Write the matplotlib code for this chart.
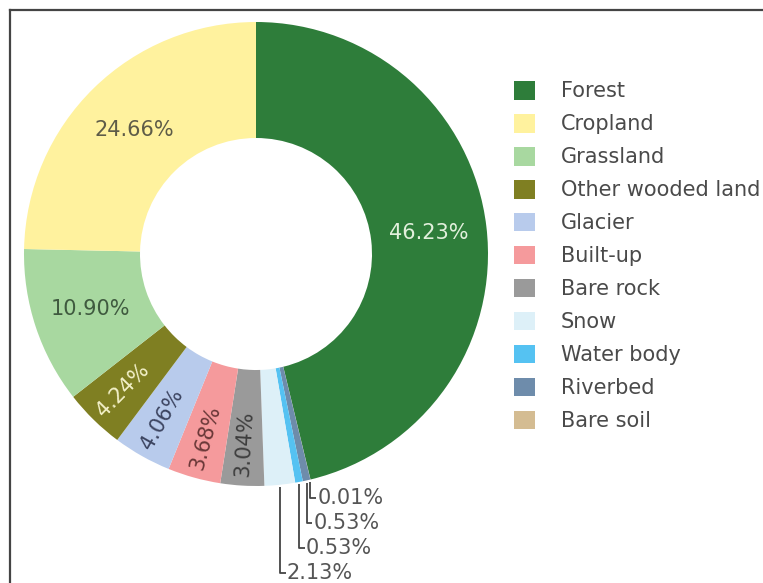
import numpy as np
import matplotlib
matplotlib.use('Agg')
import matplotlib.pyplot as plt
from matplotlib.patches import Patch

# land cover shares, in the order they appear in the legend
classes = ['Forest', 'Cropland', 'Grassland', 'Other wooded land', 'Glacier',
           'Built-up', 'Bare rock', 'Snow', 'Water body', 'Riverbed', 'Bare soil']
shares = [46.23, 24.66, 10.90, 4.24, 4.06, 3.68, 3.04, 2.13, 0.53, 0.53, 0.01]
colors = ['#2e7d3a', '#fff29e', '#a8d8a0', '#7f7f22', '#b8cbec', '#f59a9c',
          '#9a9a9a', '#ddf0f8', '#55c2f2', '#6e8cab', '#d4bc92']
text_colors = ['#e2f0dc', '#5e5c48', '#3f5a3f', '#f2f0c8', '#3c4460',
               '#6a3838', '#3e3e3e', '#555555', '#555555', '#555555', '#555555']

# ring drawn clockwise from 12 o'clock: Forest first, then the small
# classes along the bottom, ending with Cropland on the upper left
ring_order = [0, 10, 9, 8, 7, 6, 5, 4, 3, 2, 1]

fig = plt.figure(figsize=(7.63, 5.83), dpi=100)
W, H = 763, 583
cx, cy, R = 256, 254, 232
ax = fig.add_axes([(cx - R) / W, (H - cy - R) / H, 2 * R / W, 2 * R / H])

vals = [shares[i] for i in ring_order]
cols = [colors[i] for i in ring_order]
wedges, _ = ax.pie(vals, colors=cols, startangle=90, counterclock=False,
                   radius=1.0, wedgeprops=dict(width=0.5, linewidth=0))
ax.set_xlim(-1, 1)
ax.set_ylim(-1, 1)
ax.set_aspect('equal')
ax.axis('off')

# outside label rows (figure-pixel y of each label, top of chart = 0)
outside_rows = {10: 498, 9: 523, 8: 548, 7: 573}

for w, idx in zip(wedges, ring_order):
    pct = shares[idx]
    mid = np.deg2rad((w.theta1 + w.theta2) / 2)
    label = f'{pct:.2f}%'
    if pct >= 10:
        r = 0.75
        ax.text(r * np.cos(mid), r * np.sin(mid), label, ha='center', va='center',
                fontsize=15, color=text_colors[idx])
    elif pct >= 3:
        r = 0.82
        rot = np.rad2deg(mid) - 180
        ax.text(r * np.cos(mid), r * np.sin(mid), label, ha='center', va='center',
                fontsize=15, color=text_colors[idx], rotation=rot,
                rotation_mode='anchor')
    else:
        # leader line: straight down from the slice edge, then a short tick
        x0 = np.cos(mid)
        y0 = np.sin(mid) - 0.01
        ly = (cy - outside_rows[idx]) / R
        ax.plot([x0, x0, x0 + 0.025], [y0, ly, ly], color='#444444', lw=1.3,
                clip_on=False, solid_capstyle='butt')
        ax.text(x0 + 0.03, ly, label, ha='left', va='center', fontsize=15,
                color='#555555', clip_on=False)

handles = [Patch(facecolor=c, edgecolor='none') for c in colors]
fig.legend(handles, classes, loc='upper left', bbox_to_anchor=(514 / W, 1 - 81 / H),
           frameon=False, fontsize=15, handlelength=1.0, handleheight=1.0,
           handletextpad=1.25, labelspacing=0.6, borderaxespad=0, borderpad=0,
           labelcolor='#4a4a4a')

# page frame around the figure
fig.add_artist(plt.Line2D([9.5 / W, 9.5 / W], [0, 1 - 10 / H], color='#444444',
                          lw=1.6, transform=fig.transFigure))
fig.add_artist(plt.Line2D([9.5 / W, 1], [1 - 10 / H, 1 - 10 / H], color='#444444',
                          lw=1.6, transform=fig.transFigure))

fig.savefig('out.png', dpi=100)
